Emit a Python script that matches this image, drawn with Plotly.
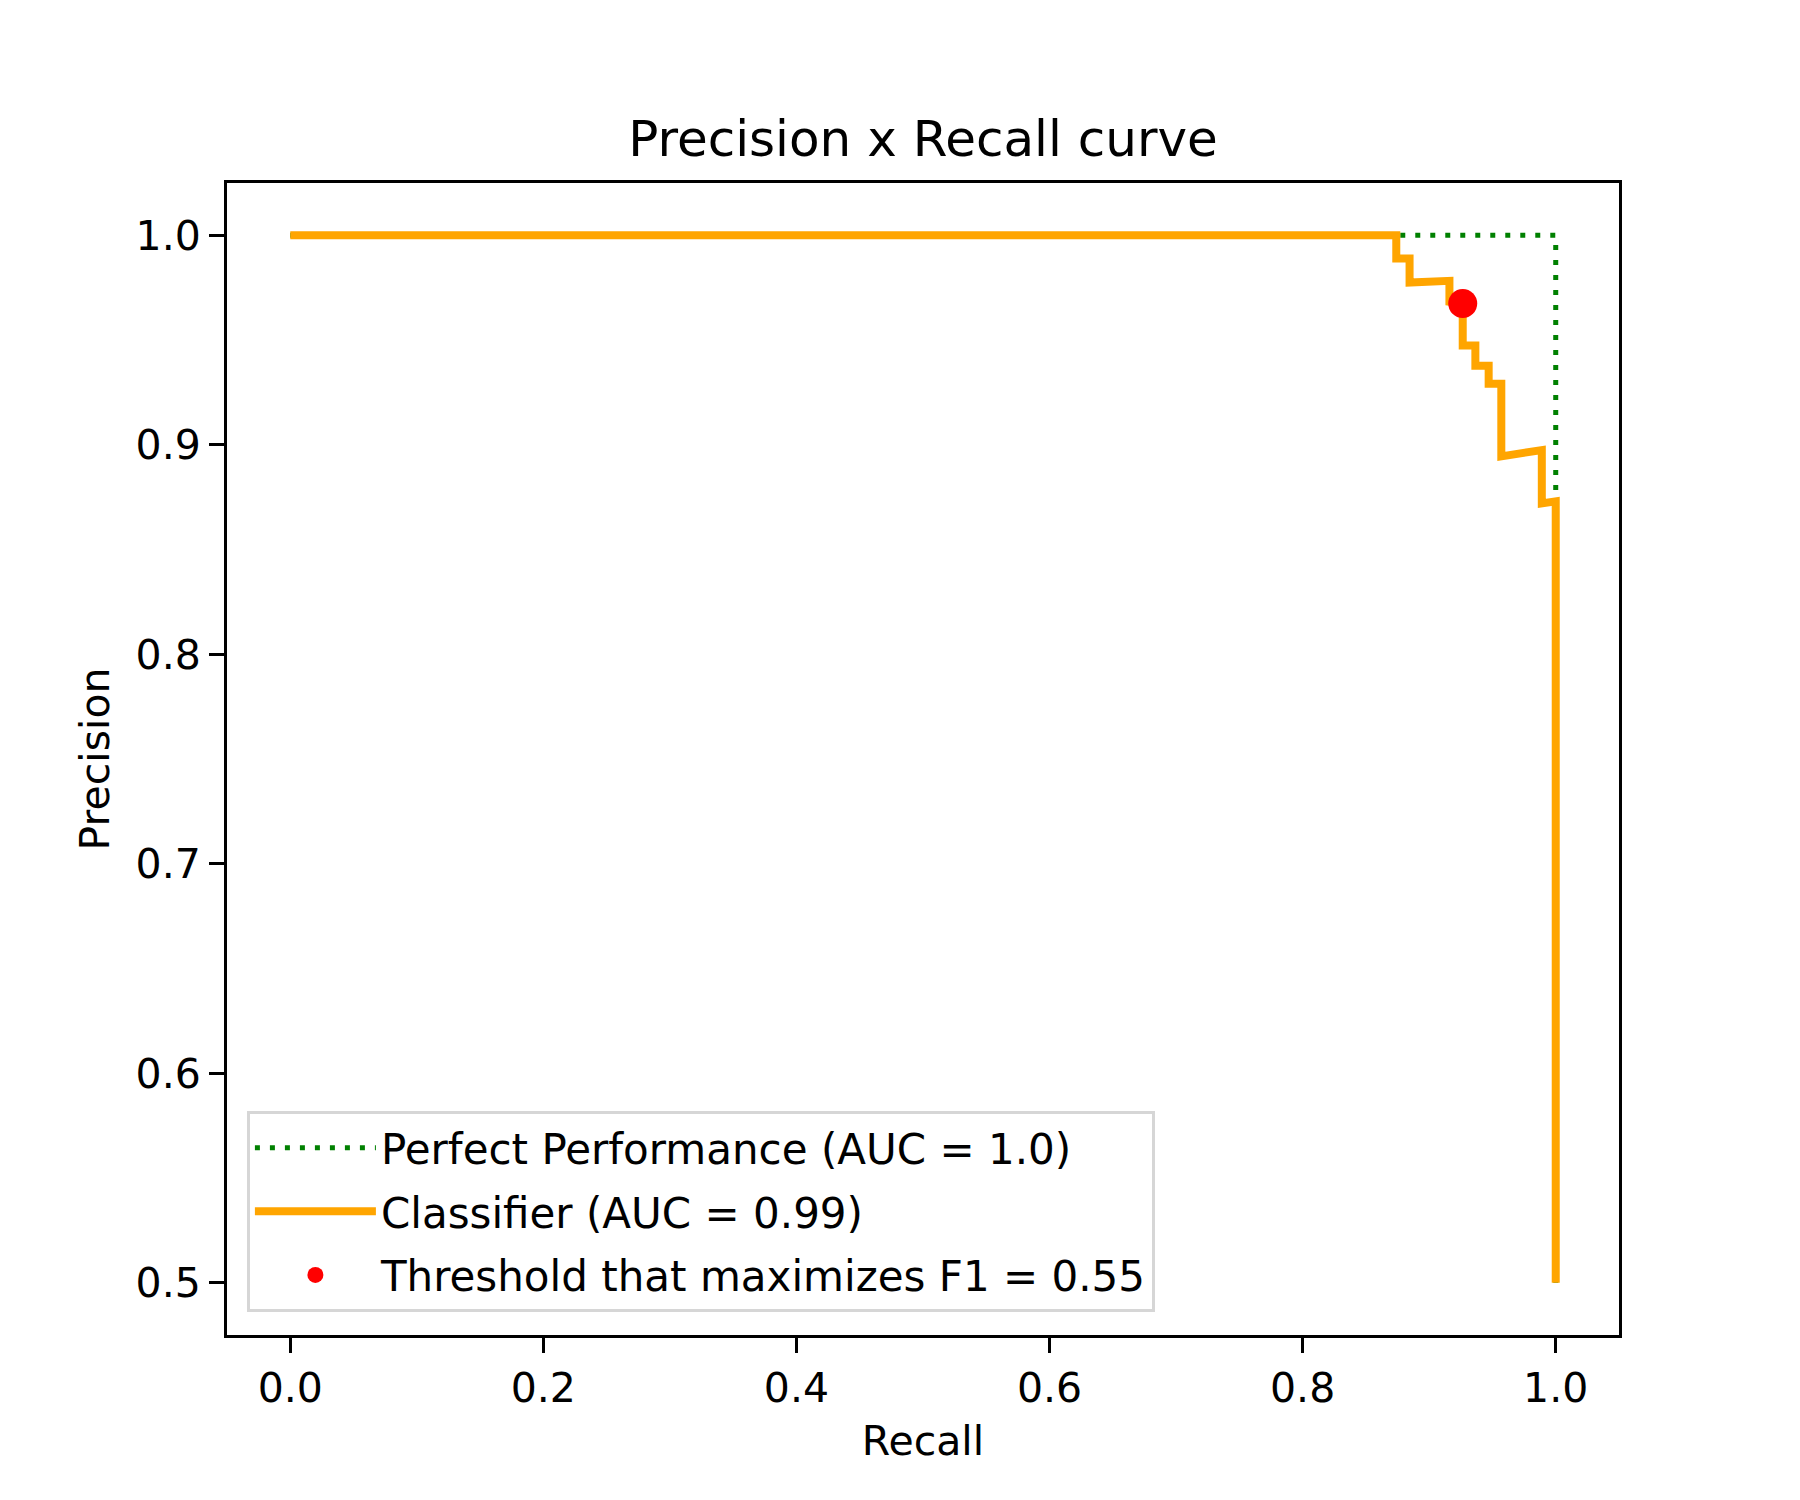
import plotly.graph_objects as go

# values
perfect_recall = [0.0, 1.0, 1.0]
perfect_precision = [1.0, 1.0, 0.5]

clf_recall = [0.0, 0.874, 0.874, 0.8845, 0.8845, 0.916, 0.916, 0.9265, 0.9265,
              0.9365, 0.9365, 0.947, 0.947, 0.957, 0.957, 0.989, 0.989, 1.0, 1.0]
clf_precision = [1.0, 1.0, 0.989, 0.989, 0.9775, 0.9783, 0.9683, 0.9675, 0.9474,
                 0.9474, 0.9378, 0.9378, 0.9291, 0.9291, 0.8945, 0.8975, 0.872, 0.873, 0.5]

best_recall = [0.9265]
best_precision = [0.9675]

FONT = "DejaVu Sans"

fig = go.Figure()

fig.add_trace(go.Scatter(
    x=perfect_recall, y=perfect_precision,
    mode="lines",
    name="Perfect Performance (AUC = 1.0)",
    line={"color": "green", "width": 5, "dash": "5px,10px"},
    legendgroup="a"))

fig.add_trace(go.Scatter(
    x=clf_recall, y=clf_precision,
    mode="lines",
    name="Classifier (AUC = 0.99)",
    line={"color": "orange", "width": 8},
    legendgroup="b"))

fig.add_trace(go.Scatter(
    x=best_recall, y=best_precision,
    mode="markers",
    name="Threshold that maximizes F1 = 0.55",
    marker={"size": 29, "color": "red"},
    legendgroup="c"))

axis_style = dict(
    showline=True, mirror=True, linecolor="black", linewidth=3,
    ticks="outside", ticklen=15, tickwidth=3, tickcolor="black",
    showgrid=False, zeroline=False,
    tickfont={"family": FONT, "size": 41, "color": "black"},
    tickformat=".1f",
)

fig.update_xaxes(axis_style, range=[-0.05, 1.05], dtick=0.2, tick0=0,
                 title={"text": "Recall", "font": {"family": FONT, "size": 41, "color": "black"},
                        "standoff": 16})
fig.update_yaxes(axis_style, range=[0.475, 1.025], dtick=0.1, tick0=0.5,
                 title={"text": "Precision", "font": {"family": FONT, "size": 41, "color": "black"},
                        "standoff": 14})

fig.update_layout(
    width=1800, height=1500,
    margin={"l": 219, "r": 189, "t": 175, "b": 173},
    paper_bgcolor="white", plot_bgcolor="white",
    font={"family": FONT, "color": "black"},
    title={"text": "Precision x Recall curve", "x": 0.5, "xref": "paper", "xanchor": "center",
           "y": 0.9127, "yanchor": "middle",
           "font": {"family": FONT, "size": 50, "color": "black"}},
    legend={"x": 0.0143, "y": 0.02, "xanchor": "left", "yanchor": "bottom",
            "bgcolor": "white", "bordercolor": "#d6d6d6", "borderwidth": 3,
            "font": {"family": FONT, "size": 42, "color": "black"},
            "traceorder": "grouped", "tracegroupgap": 6, "itemwidth": 121},
    showlegend=True,
)

fig.write_html("out.html")
